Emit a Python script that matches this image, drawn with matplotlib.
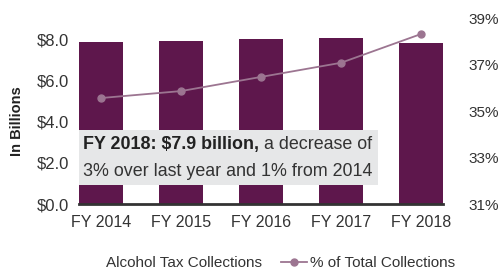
import matplotlib
matplotlib.use("Agg")
import matplotlib.pyplot as plt
from matplotlib.patches import Rectangle
from matplotlib.lines import Line2D

plt.rcParams['font.family'] = ['Liberation Sans', 'DejaVu Sans']

years = ["FY 2014", "FY 2015", "FY 2016", "FY 2017", "FY 2018"]
collections = [7.85, 7.9, 8.0, 8.05, 7.8]
pct_total = [35.57, 35.87, 36.48, 37.09, 38.33]
left_ticks = [0, 2, 4, 6, 8]
left_labels = ["$0.0", "$2.0", "$4.0", "$6.0", "$8.0"]
right_ticks = [31, 33, 35, 37, 39]
right_labels = ["31%", "33%", "35%", "37%", "39%"]

bar_color = "#5e174c"
line_color = "#9c7591"
txt_color = "#333333"

fig = plt.figure(figsize=(5.02, 2.78), dpi=100)
ax = fig.add_axes([79/502, (278-204)/278, 364/502, 185.5/278])
x = list(range(len(years)))
ax.bar(x, collections, width=0.55, color=bar_color, zorder=2)
ax.set_xlim(-0.275, len(years) - 1 + 0.275)
ax.set_ylim(0, 9)
ax.set_yticks(left_ticks)
ax.set_yticklabels(left_labels)
ax.set_xticks(x)
ax.set_xticklabels(years)
ax.tick_params(length=0, colors=txt_color)
ax.tick_params(axis='x', pad=8, labelsize=11.5)
ax.tick_params(axis='y', pad=7, labelsize=12)
for s in ["top", "right", "left"]:
    ax.spines[s].set_visible(False)
ax.spines["bottom"].set_color("#333333")
ax.spines["bottom"].set_linewidth(2)
ax.spines["bottom"].set_zorder(5)
ax.set_ylabel("In Billions", fontsize=10.5, fontweight="bold", color="#222222", labelpad=12)
ax.yaxis.set_label_coords(-0.15, 0.447)

ax2 = ax.twinx()
ax2.plot(x, pct_total, color=line_color, marker="o", markersize=5, linewidth=1.3, zorder=3)
ax2.set_ylim(31, 39)
ax2.set_yticks(right_ticks)
ax2.set_yticklabels(right_labels)
ax2.tick_params(length=0, labelsize=11, colors=txt_color, pad=18)
for s in ["top", "right", "left", "bottom"]:
    ax2.spines[s].set_visible(False)

# annotation box
ax2.add_patch(Rectangle((0, 0.102), 0.821, 0.297, transform=ax.transAxes,
                        facecolor="#e6e7e8", edgecolor="none", zorder=6))
t1 = ax2.text(4/364, 0.32, "FY 2018: $7.9 billion,", transform=ax.transAxes,
              fontsize=12.9, fontweight="bold", color="#222222", va="center", ha="left", zorder=7)
ax2.annotate(" a decrease of", xy=(1, 0.5), xycoords=t1, va="center", ha="left",
             fontsize=12.9, color=txt_color, zorder=7)
ax2.text(4/364, 0.175, "3% over last year and 1% from 2014", transform=ax.transAxes,
         fontsize=12.9, color=txt_color, va="center", ha="left", zorder=7)

# legend
fig.text(106/502, 1 - 263/278, "Alcohol Tax Collections", fontsize=11, color=txt_color,
         ha="left", va="center")
h = Line2D([], [], color=line_color, marker="o", markersize=5, linewidth=1.3)
fig.legend(handles=[h], labels=["% of Total Collections"], loc="center left",
           bbox_to_anchor=(273/502, 1 - 263/278), frameon=False, fontsize=11,
           handlelength=1.7, handletextpad=0.2, labelcolor=txt_color, borderpad=0)

fig.savefig("out.png", dpi=100)
